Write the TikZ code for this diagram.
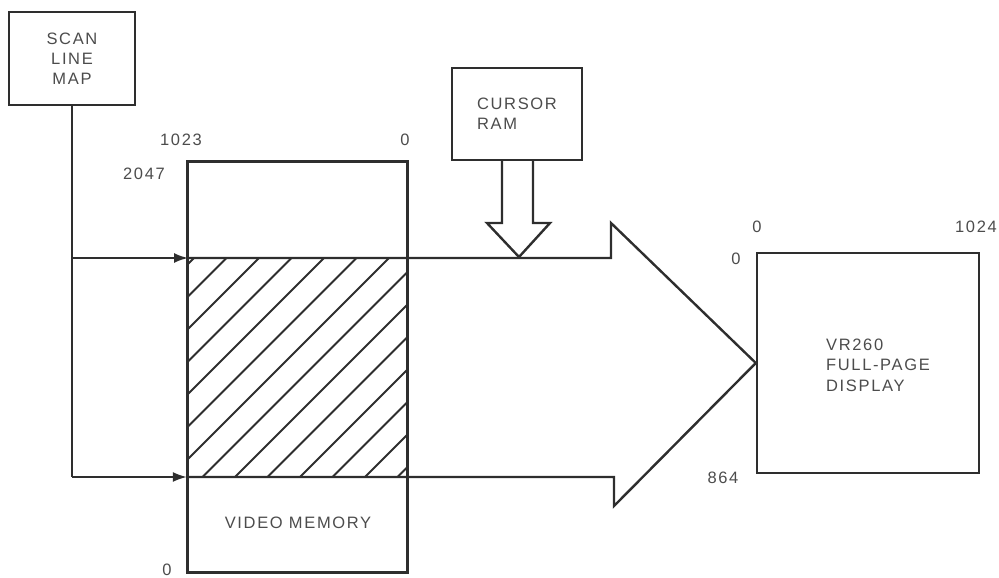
\documentclass[tikz,border=0pt]{standalone}
\usepackage{fontspec}
\setmainfont{Liberation Sans}[LetterSpace=10]
\usetikzlibrary{arrows.meta}
\definecolor{ink}{gray}{0.18}
\definecolor{txt}{gray}{0.30}
\tikzset{
  x=1pt, y=-1pt,
  ln/.style={draw=ink, line width=2.4pt, line join=miter},
  boxnode/.style={ln, rectangle, inner sep=0pt, text=txt, align=center,
     font=\fontsize{16.5}{20}\selectfont},
  lbl/.style={text=txt, font=\fontsize{16.5}{20}\selectfont, anchor=base, inner sep=0pt},
  hatch/.style={draw=ink, line width=1.9pt},
  inarrow/.style={ln, line width=1.8pt, -{Latex[length=14pt,width=10pt]}}
}
\begin{document}
\begin{tikzpicture}
\useasboundingbox (0,0) rectangle (999,578);

% boxes
\node[boxnode, minimum width=126pt, minimum height=93pt] (scan) at (72,58.5) {SCAN\\LINE\\MAP};
\node[boxnode, minimum width=219pt, minimum height=410pt] (vm) at (297.5,367) {};
\node[boxnode, minimum width=130pt, minimum height=92pt, align=left] (cursor) at (517,114) {CURSOR\\RAM};
\node[boxnode, minimum width=222pt, minimum height=220pt] (disp) at (868,363) {};
\node[text=txt, align=left, font=\fontsize{16.5}{20.5}\selectfont, inner sep=0pt] (disptxt) at (878,365) {VR260\\FULL-PAGE\\DISPLAY};
\node[lbl] (vmtxt) at (298,528) {VIDEO MEMORY};

% hatched region
\coordinate (hTL) at (188,258);
\coordinate (hBR) at (407,477);
\begin{scope}
  \clip (hTL) rectangle (hBR);
  \foreach \k in {0,...,13}{
    \pgfmathsetmacro{\c}{452+32.5*\k}
    \draw[hatch] (\c-258,258) -- (\c-477,477);
  }
\end{scope}

% scan line map connectors
\coordinate (j1) at (scan.south |- hTL);
\coordinate (j2) at (scan.south |- hBR);
\draw[ln, line width=1.8pt] (scan.south) -- (j2);
\draw[inarrow] (j1) -- (hTL);
\draw[inarrow] (j2) -- (vm.west |- hBR);

% big arrow into display
\coordinate (s1) at (611,258);
\coordinate (h1) at (611,223);
\coordinate (tip) at (disp.west);
\coordinate (h2) at (614,506);
\coordinate (s2) at (614,477);
\draw[ln] (vm.west |- hTL) -- (s1) -- (h1) -- (tip) -- (h2) -- (s2) -- (vm.west |- hBR);

% cursor arrow
\draw[ln] (502,160) -- (502,223) -- (487,223) -- (519,257) -- (550,223) -- (533,223) -- (533,160);

% redraw box outline on top
\draw[ln] (vm.north west) rectangle (vm.south east);

% labels
\node[lbl] (l1023) at (181,145) {1023};
\node[lbl] (l0a) at (405,145) {0};
\node[lbl] (l2047) at (144,179) {2047};
\node[lbl] (l0b) at (167,575) {0};
\node[lbl] (l0c) at (757,232) {0};
\node[lbl] (l1024) at (976,232) {1024};
\node[lbl] (l0d) at (736,264) {0};
\node[lbl] (l864) at (723,483) {864};
\end{tikzpicture}
\end{document}
